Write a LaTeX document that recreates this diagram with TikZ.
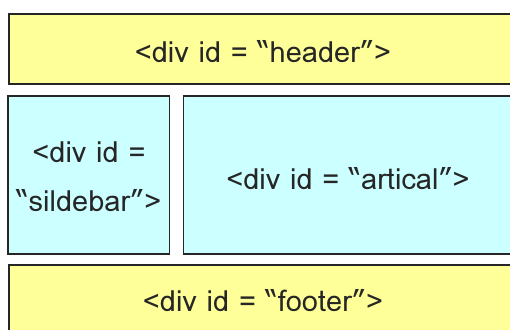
\documentclass[tikz,border=0pt]{standalone}
\usepackage{fontspec}
\newfontfamily\thaifont[Script=Thai]{Loma}
\definecolor{boxyellow}{HTML}{FFFF99}
\definecolor{boxcyan}{HTML}{CCFFFF}
\begin{document}
\begin{tikzpicture}[x=1pt,y=-1pt,
  divbox/.style={draw=black!85,line width=1.4pt},
  divtext/.style={font=\thaifont\fontsize{29}{49}\selectfont,text=black!85,align=center,inner sep=0pt,anchor=base}]
\useasboundingbox (0,0) rectangle (510,329);
\clip (0,0) rectangle (510,329);
\fill[white] (0,0) rectangle (510,329);
\draw[divbox,fill=boxyellow] (9,14) rectangle (530,84);
\draw[divbox,fill=boxcyan] (8,96) rectangle (169.5,254);
\draw[divbox,fill=boxcyan] (183.5,96) rectangle (530,254);
\draw[divbox,fill=boxyellow] (9,265) rectangle (530,350);
\node[divtext] (header) at (263,63) {<div id = “header”>};
\node[divtext] (sidebar) at (89,162) {<div id =};
\node[divtext] (sidebar2) at (89,211) {“sildebar”>};
\node[divtext] (artical) at (348,189) {<div id = “artical”>};
\node[divtext] (footer) at (263,311) {<div id = “footer”>};
\end{tikzpicture}
\end{document}
